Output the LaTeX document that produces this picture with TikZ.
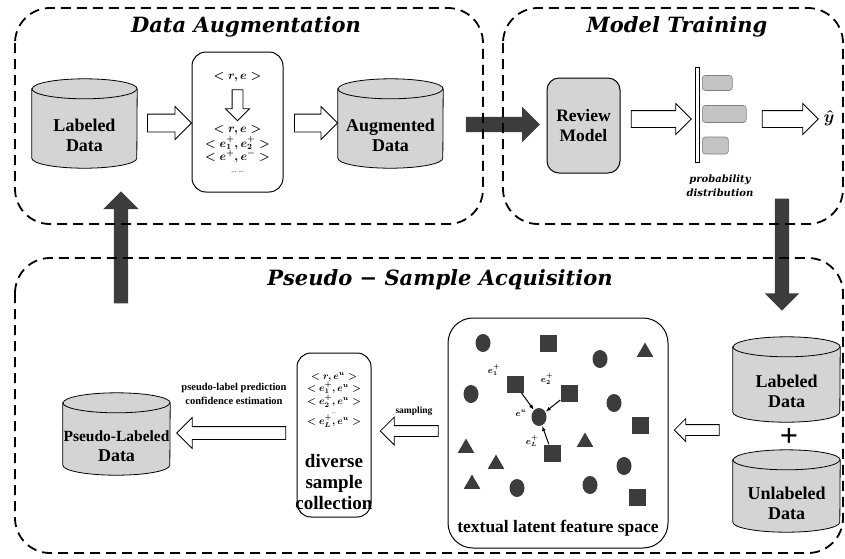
\documentclass[tikz,border=0pt]{standalone}
\usepackage{fontspec}
\setmainfont{Liberation Serif}
\newfontfamily\titlefont{DejaVu Serif}
\usepackage{amsmath}
\usetikzlibrary{shapes.geometric,shapes.arrows,positioning,calc,arrows.meta}

\definecolor{dbfill}{HTML}{D4D4D4}
\definecolor{barfill}{HTML}{C4C4C4}
\definecolor{darkfill}{HTML}{3C3C3C}

\tikzset{
  stage/.style={draw, line width=1.8pt, dash pattern=on 10pt off 6pt, rounded corners=35pt},
  stagetitle/.style={font=\titlefont\fontsize{21}{25}\selectfont\bfseries\itshape},
  drumline/.style={draw, fill=dbfill, line width=0.8pt},
  dbtext/.style={align=center, font=\fontsize{18}{20}\selectfont\bfseries},
  panel/.style={draw, line width=1pt, rounded corners=14pt, inner sep=0pt},
  formula/.style={align=center, font=\fontsize{11.5}{13}\selectfont\boldmath},
  hollow/.style={single arrow, draw, fill=white, line width=0.8pt, inner xsep=0pt,
    single arrow head indent=0pt},
  darkarrow/.style={single arrow, fill=darkfill, inner xsep=0pt, single arrow head indent=0pt},
  bar/.style={draw=gray, fill=barfill, line width=0.6pt, rounded corners=3pt, inner sep=0pt, anchor=west},
  dotpt/.style={ellipse, fill=darkfill, minimum width=15pt, minimum height=18pt, inner sep=0pt},
  sqpt/.style={rectangle, fill=darkfill, minimum size=17pt, inner sep=0pt},
  tript/.style={regular polygon, regular polygon sides=3, fill=darkfill, minimum size=19pt, inner sep=0pt},
  elabel/.style={font=\fontsize{9}{10}\selectfont\boldmath, inner sep=0pt},
  pull/.style={-{Latex[length=5pt,width=4pt]}, line width=1pt, shorten >=0.5pt},
}

% database drum: name, centre, width, height, text
\newcommand\drum[5]{%
  \node[minimum width=#3pt, minimum height=#4pt, inner sep=0pt] (#1) at (#2) {};
  \draw[drumline] ([yshift=-10pt]#1.north west) -- ([yshift=10pt]#1.south west)
    arc[start angle=180, end angle=360, x radius=#3pt/2, y radius=10pt]
    -- ([yshift=-10pt]#1.north east)
    arc[start angle=0, end angle=180, x radius=#3pt/2, y radius=10pt] -- cycle;
  \draw[line width=0.8pt] ([yshift=-10pt]#1.north west)
    arc[start angle=180, end angle=360, x radius=#3pt/2, y radius=10pt];
  \node[dbtext] (#1text) at ([yshift=-12pt]#1.center) {#5};
}

\begin{document}
\begin{tikzpicture}[x=1pt,y=1pt]
\useasboundingbox (0,0) rectangle (845,-558);

% --- data augmentation
\drum{lab}{84.5,-123.5}{105}{89}{Labeled\\Data}
\node[panel, minimum width=91pt, minimum height=140pt] (pairs) at (237.5,-122) {};
\node[formula] (re) at (237.5,-77) {$<r,e>$};
\node[hollow, rotate=-90, minimum height=31pt, minimum width=23pt, inner ysep=5pt,
  single arrow head extend=6.5pt] (down) at (237.5,-102.5) {};
\node[formula] (aug) at (237.5,-149) {$<r,e>$\\$<e_1^+,e_2^+>$\\$<e^+,e^->$\\[-1pt]{\scriptsize ...\ ...}};
\drum{augdb}{390.5,-123.5}{105}{89}{Augmented\\Data}
\node[hollow, minimum height=44pt, minimum width=32pt, inner ysep=8.5pt, single arrow head extend=7.5pt] (h1) at (165,-123) {};
\node[hollow, minimum height=43pt, minimum width=32pt, inner ysep=8.5pt, single arrow head extend=7.5pt] (h2) at (311.5,-123) {};

% --- model training
\node[panel, fill=dbfill, minimum width=73pt, minimum height=95pt, rounded corners=12pt,
  align=center, font=\fontsize{17.5}{20}\selectfont\bfseries] (review) at (583.5,-125.5) {Review\\Model};
\node[hollow, minimum height=60pt, minimum width=30pt, inner ysep=8pt, single arrow head extend=7pt] (h3) at (657,-119) {};
\node[draw, line width=0.6pt, minimum width=4pt, minimum height=95pt, inner sep=0pt] (layer) at (697,-114.5) {};
\node[bar, minimum width=30pt, minimum height=15pt] (p1) at (702,-83) {};
\node[bar, minimum width=44pt, minimum height=17pt] (p2) at (702,-114) {};
\node[bar, minimum width=26pt, minimum height=17pt] (p3) at (702,-145.5) {};
\node[align=center, font=\titlefont\fontsize{10}{14}\selectfont\bfseries\itshape] (prob) at (720,-186) {probability\\distribution};
\node[hollow, minimum height=56pt, minimum width=30pt, inner ysep=8pt, single arrow head extend=7pt] (h4) at (786,-119) {};
\node[font=\fontsize{16}{16}\selectfont\boldmath, inner sep=0pt] (yhat) at (829,-118) {$\hat{y}$};

% --- pseudo-sample acquisition
\drum{plab}{116.5,-434}{107}{82}{\fontsize{15.5}{17}\selectfont Pseudo-Labeled\\Data}
\node[hollow, rotate=180, minimum height=109pt, minimum width=30pt, inner ysep=6pt, single arrow head extend=9pt] (h5) at (234.5,-433) {};
\node[align=center, font=\fontsize{10.5}{14}\selectfont\bfseries] (conf) at (234,-394) {pseudo-label prediction\\confidence estimation};
\node[panel, minimum width=74pt, minimum height=164pt] (div) at (334,-435) {};
\node[align=center, font=\fontsize{10}{12}\selectfont\boldmath] (divpairs) at (334,-400)
  {$<r,e^u>$\\$<e_1^+,e^u>$\\$<e_2^+,e^u>$\\[-3pt]{\tiny ...}\\[-1pt]$<e_L^+,e^u>$};
\node[align=center, font=\fontsize{19}{21}\selectfont\bfseries] (divtext) at (334,-482) {diverse\\sample\\collection};
\node[font=\fontsize{9.5}{11}\selectfont\bfseries] (samp) at (414,-411) {sampling};
\node[hollow, rotate=180, minimum height=58pt, minimum width=27pt, inner ysep=5pt, single arrow head extend=8.5pt] (h6) at (412,-431) {};
\node[panel, minimum width=220pt, minimum height=230pt, rounded corners=25pt] (space) at (558,-433) {};
\node[font=\fontsize{17.5}{20}\selectfont\bfseries] (spacetxt) at (558,-528) {textual latent feature space};
\node[hollow, rotate=180, minimum height=45pt, minimum width=22pt, inner ysep=5pt, single arrow head extend=6pt] (h7) at (699.5,-430) {};
\drum{lab2}{786.5,-379.5}{107}{85}{Labeled\\Data}
\node[font=\fontsize{32}{32}\selectfont\bfseries] (plus) at (789,-437) {+};
\drum{unl}{786.5,-491}{107}{82}{Unlabeled\\Data}

% points of the latent space
\foreach \p in {(483,-343),(600,-359),(471,-394),(614,-403),(624,-466),(517,-488),(590,-485)}
  \node[dotpt] at \p {};
\foreach \p in {(548,-343),(640,-425),(637,-497)}
  \node[sqpt] at \p {};
\foreach \p in {(645,-352),(466,-448),(585,-442),(496,-464),(472,-484)}
  \node[tript] at \p {};
\node[dotpt] (eu) at (539,-417) {};
\node[sqpt] (e1) at (515,-384) {};
\node[sqpt] (e2) at (569,-393) {};
\node[sqpt] (eL) at (552,-453) {};
\node[elabel] (e1txt) at (494,-370) {$e_1^+$};
\node[elabel] (e2txt) at (547,-379) {$e_2^+$};
\node[elabel] (eutxt) at (521,-413) {$e^u$};
\node[elabel] (eLtxt) at (532,-441) {$e_L^+$};
\draw[pull] (e1) -- (eu);
\draw[pull] (e2) -- (eu);
\draw[pull] (eL) -- (eu);

% dark flow arrows between stages
\node[darkarrow, minimum height=74pt, minimum width=35pt, inner ysep=7.5pt, single arrow head extend=10pt] (toTrain) at (499,-124.5) {};
\node[darkarrow, rotate=-90, minimum height=112pt, minimum width=34pt, inner ysep=7pt, single arrow head extend=10pt] (toPseudo) at (782,-251) {};
\node[darkarrow, rotate=90, minimum height=112pt, minimum width=35pt, inner ysep=7pt, single arrow head extend=10.5pt] (toAug) at (121,-251) {};

% stage frames
\draw[stage] (15,-8) rectangle (483,-224);
\draw[stage] (503,-8) rectangle (843,-224);
\draw[stage] (15,-258) rectangle (843,-553);
\node[stagetitle] (t1) at (246,-27) {Data Augmentation};
\node[stagetitle] (t2) at (677,-27) {Model Training};
\node[stagetitle] (t3) at (440,-280) {Pseudo − Sample Acquisition};
\end{tikzpicture}
\end{document}
